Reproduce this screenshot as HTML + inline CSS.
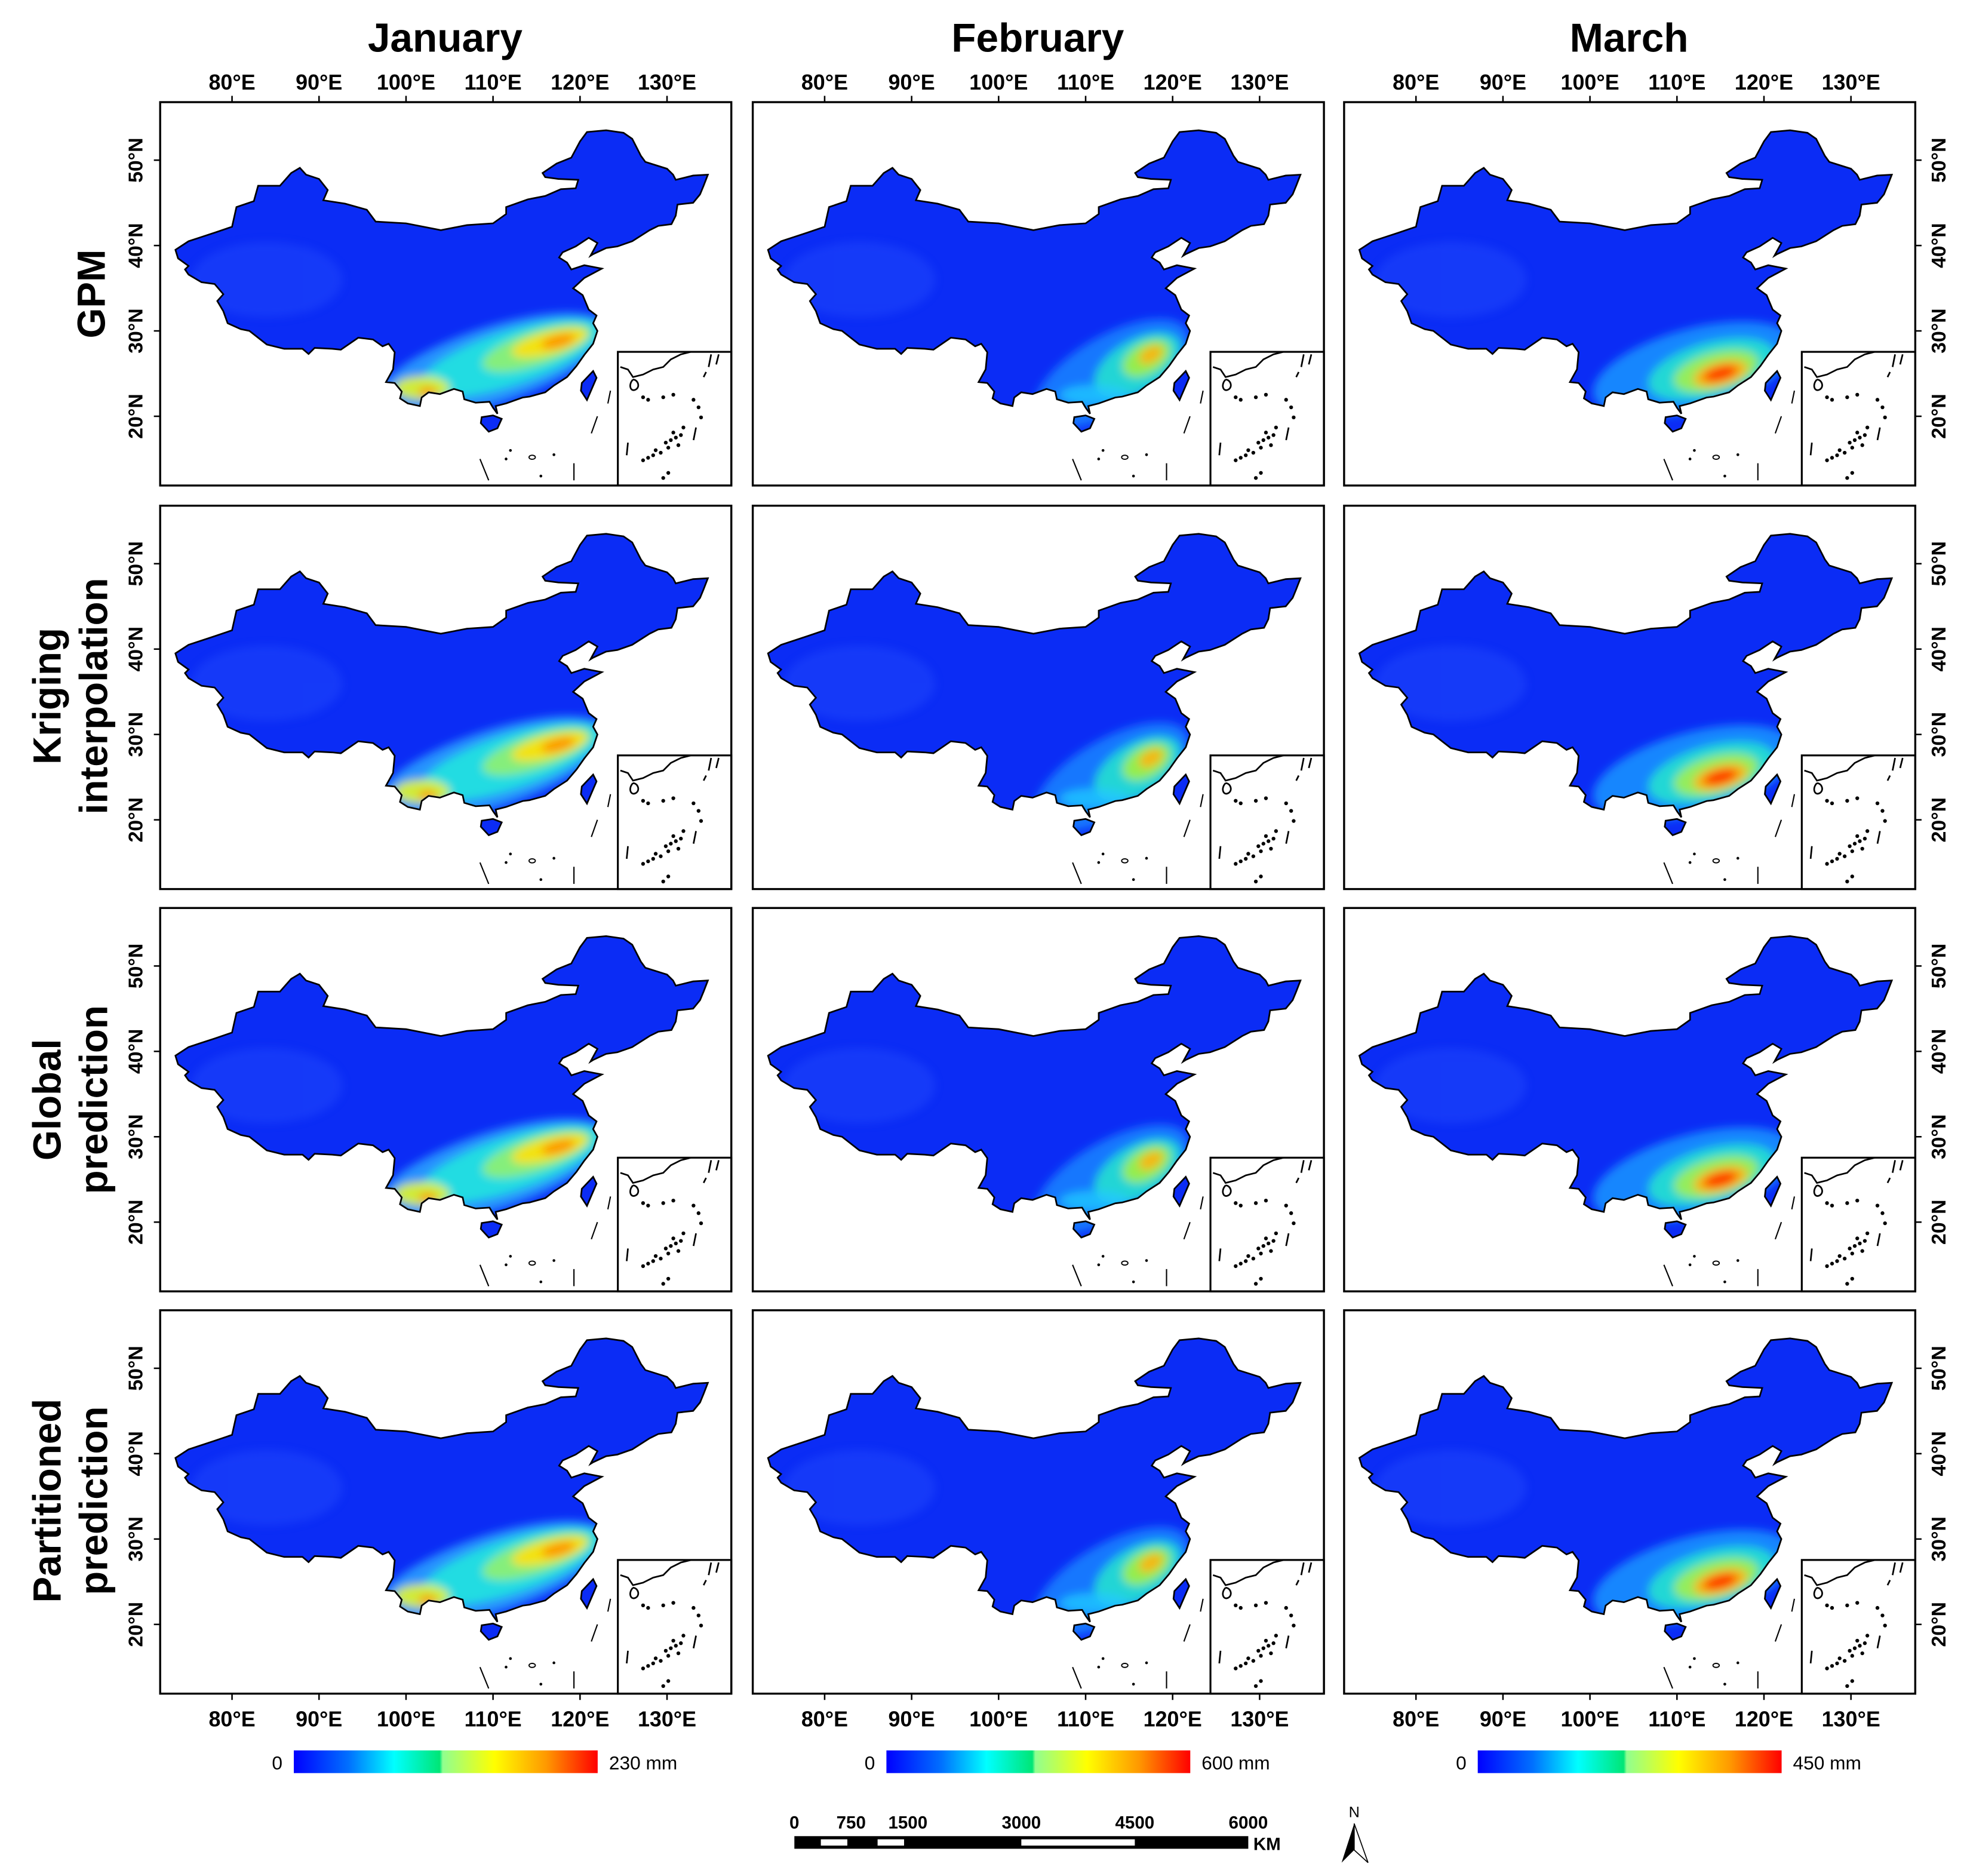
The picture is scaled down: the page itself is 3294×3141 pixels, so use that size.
<!DOCTYPE html>
<html><head><meta charset="utf-8">
<style>
html,body{margin:0;padding:0;background:#fff;}
svg{display:block;}
text{font-family:"Liberation Sans",Arial,sans-serif;font-weight:bold;fill:#000;}
text.reg{font-weight:normal;}
</style></head>
<body>
<svg id="fig" xmlns="http://www.w3.org/2000/svg" width="3294" height="3141" viewBox="0 0 1560 1487.6">
<defs>
<filter id="blur" x="-50%" y="-50%" width="200%" height="200%"><feGaussianBlur stdDeviation="3.5"/></filter>
<linearGradient id="cbar" x1="0" x2="1" y1="0" y2="0">
<stop offset="0" stop-color="#0000ff"/><stop offset="0.18" stop-color="#0070ff"/>
<stop offset="0.33" stop-color="#00ffff"/><stop offset="0.48" stop-color="#00e676"/>
<stop offset="0.49" stop-color="#90ff90"/><stop offset="0.66" stop-color="#ffff00"/>
<stop offset="0.83" stop-color="#ff9900"/><stop offset="1" stop-color="#ff0000"/>
</linearGradient>
</defs>
<g id="root"></g>
</svg>
<script>
const NS='http://www.w3.org/2000/svg';
const months=['January','February','March'];
const maxLabels=['230 mm','600 mm','450 mm'];
const rowLabels=[['GPM'],['Kriging','interpolation'],['Global','prediction'],['Partitioned','prediction']];
const lonTicks=[80,90,100,110,120,130];
const latTicks=[20,30,40,50];
const scaleLabels=['0','750','1500','3000','4500','6000'];
const scaleValues=[0,750,1500,3000,4500,6000];
const colX=[127,597,1066];
const rowY=[81,401,720,1039];
const PW=453, PH=304;
const china=[[73.5,39.5],[75,40.5],[76.5,41],[78,41.5],[80,42.2],[80.5,44.5],[82.5,45.2],[83,47],[85.5,47],[86.8,48.5],[87.8,49.1],[88.5,48.3],[90,47.8],[91,46.5],[90.5,45.3],[93,44.9],[95.5,44.2],[96.5,42.8],[100,42.6],[104,41.8],[107,42.4],[110,42.6],[111.5,43.7],[111.5,44.5],[114,45.4],[116,45.8],[117.8,46.6],[119.5,46.7],[119.8,47.7],[117.5,47.8],[116,48],[115.7,48.5],[117.3,49.6],[119,50.3],[120,52.2],[120.8,53.3],[123,53.5],[125,53.2],[126,52.5],[127,50.5],[127.5,49.8],[130,49],[130.7,48.3],[131,47.7],[133,48.2],[134.7,48.3],[134.2,47],[133.8,46],[133,45],[131.2,44.8],[131,43.5],[130.5,42.5],[129,42.3],[128,41.8],[126,40.5],[124.3,39.9],[123,39.7],[121.5,39],[121.2,38.8],[122,40.3],[121,40.9],[119.5,39.9],[118,39.2],[117.6,38.6],[118.5,38],[119,37.2],[120.5,37.7],[122.5,37.3],[120.5,36.2],[119.2,35],[120.3,34.2],[121,32.5],[121.9,31.8],[121.5,30.9],[122,30],[121.5,28.5],[120.5,27.2],[119.6,25.9],[118.5,24.6],[117,23.6],[116,22.8],[114.2,22.3],[113.4,22.2],[111.5,21.5],[110.3,21.2],[110.5,20.3],[110,21],[109.6,21.7],[108,21.6],[106.7,22],[106.5,22.9],[105.5,23.2],[103.9,22.6],[102.6,22.8],[101.8,22.2],[101.6,21.2],[100.2,21.5],[99.3,22.1],[99.5,22.9],[98.7,23.9],[97.7,24],[98.5,25.5],[98.7,27.5],[98,28.5],[97.3,28.2],[96.2,29],[94.5,29.2],[92.5,27.8],[91.5,27.9],[89.5,28],[88.8,27.3],[88.1,27.9],[86,27.9],[84,28.4],[82,30],[81,30.2],[79.5,30.9],[79,32.3],[78.3,33.5],[79,34.3],[78,35.5],[76.5,35.7],[75,36.6],[74.6,37.2],[75,37.6],[73.8,38.5]];
const hainan=[[108.6,19.2],[109.5,18.2],[110.5,18.6],[111,19.7],[110,20.1],[108.7,19.9]];
const taiwan=[[120.1,23],[120.8,21.9],[121.9,24.5],[121.5,25.3],[120.2,23.9]];
// hotspots: lon, lat, rx(deg), ry(deg), rot, color, opacity
const hotJan=[[110,26,14,4.5,-18,'#2a9cff',0.9],[112,26.8,11,3.2,-18,'#20e0e0',0.95],[115,28,6.5,2,-18,'#90f070',0.9],[116.5,28.6,4.5,1.3,-15,'#ffe000',0.9],[117.5,28.8,2,0.7,-15,'#ff8000',0.8],[101.8,23.3,3.2,1.4,0,'#d8f030',0.95],[102.5,22.9,1.1,0.6,0,'#ff9000',0.8]];
const hotFeb=[[113,25,10,4.5,-30,'#1a80ff',0.9],[116,26,5.5,3,-30,'#20e0d0',0.9],[117,26.8,3,1.8,-30,'#a0f040',0.9],[117.5,27.2,1.5,0.9,-30,'#ffb000',0.9],[111,22.5,4,1.2,0,'#20c8ff',0.8]];
const hotMar=[[112,25.5,12,4.8,-15,'#1a90ff',0.9],[114,25.5,7.5,3.2,-15,'#20e0d0',0.9],[114.5,25.3,5,2.2,-15,'#a0f050',0.9],[115,25,3.2,1.4,-15,'#ffb000',0.9],[115,25,2,0.8,-15,'#ff2000',0.85]];
const hots=[hotJan,hotFeb,hotMar];

const px=lon=>57+(lon-80)*6.9;
const py=lat=>46+(50-lat)*6.77;
function mk(tag,attrs,parent){const e=document.createElementNS(NS,tag);for(const k in attrs)e.setAttribute(k,attrs[k]);if(parent)parent.appendChild(e);return e;}
function pathOf(pts){return 'M'+pts.map(p=>px(p[0]).toFixed(1)+','+py(p[1]).toFixed(1)).join('L')+'Z';}
const root=document.getElementById('root');
const defs=document.querySelector('defs');
const cp=mk('clipPath',{id:'chinaClip'},defs);
mk('path',{d:pathOf(china)+pathOf(hainan)+pathOf(taiwan)},cp);
const cpp=mk('clipPath',{id:'panelClip'},defs);
mk('rect',{x:0,y:0,width:PW,height:PH},cpp);

function txt(parent,x,y,s,size,cls,anchor,rot){
  const t=mk('text',{x:x,y:y,'font-size':size,'text-anchor':anchor||'middle'},parent);
  if(cls)t.setAttribute('class',cls);
  if(rot)t.setAttribute('transform','rotate('+rot+' '+x+' '+y+')');
  t.textContent=s;return t;
}

for(let c=0;c<3;c++){
  const t=txt(root,colX[c]+226,41,months[c],32);
  
  
  for(let r=0;r<4;r++){
    const g=mk('g',{transform:'translate('+colX[c]+','+rowY[r]+')'},root);
    
    
    const inner=mk('g',{'clip-path':'url(#panelClip)'},g);
    const m=mk('g',{'clip-path':'url(#chinaClip)'},inner);
    mk('rect',{x:0,y:0,width:PW,height:PH,fill:'#0b2cf5'},m);
    mk('ellipse',{cx:px(84),cy:py(36),rx:60,ry:30,fill:'#2a55ff',opacity:0.35,filter:'url(#blur)'},m);
    const hg=mk('g',{filter:'url(#blur)'},m);
    hots[c].forEach(h=>{
      const e=mk('ellipse',{cx:px(h[0]),cy:py(h[1]),rx:h[2]*6.9,ry:h[3]*6.77,fill:h[5],opacity:h[6],transform:'rotate('+h[4]+' '+px(h[0])+' '+py(h[1])+')'},hg);
      
      
    });
    const ol=mk('path',{d:pathOf(china)+pathOf(hainan)+pathOf(taiwan),fill:'none',stroke:'#000','stroke-width':1.3},inner);
    
    
    [[112,16],[117,15.5],[111.5,15],[115.5,13]].forEach(p=>mk('circle',{cx:px(p[0]),cy:py(p[1]),r:1.1,fill:'#000'},inner));
    mk('ellipse',{cx:px(114.5),cy:py(15.2),rx:2.5,ry:1.6,fill:'none',stroke:'#000','stroke-width':0.9},inner);
    [[[108.5,15],[109.5,12.5]],[[119.3,14.5],[119.3,12.5]],[[122,20],[121.3,18]],[[123.5,23],[123.2,21.5]]].forEach(l=>mk('line',{x1:px(l[0][0]),y1:py(l[0][1]),x2:px(l[1][0]),y2:py(l[1][1]),stroke:'#000','stroke-width':1},inner));
    const ins=mk('g',{transform:'translate(363,198)'},g);
    
    
    mk('rect',{x:0,y:0,width:90,height:106,fill:'#fff',stroke:'#000','stroke-width':1.5},ins);
    mk('path',{d:'M2,12 L8,14 L12,20 L20,18 L28,14 L36,12 L42,6 L50,2 L58,0 M12,22 C8,26 10,32 14,30 C18,28 16,22 12,22 M74,2 L72,12 M70,16 L68,20 M80,2 L78,10 M62,60 L60,70 M8,72 L7,82',fill:'none',stroke:'#000','stroke-width':1.3},ins);
    [[20,36],[24,38],[36,36],[44,34],[60,38],[64,44],[38,72],[42,70],[46,68],[50,66],[30,78],[34,80],[24,84],[20,86],[48,74],[52,60],[40,96],[36,100],[66,52],[44,64],[40,76],[28,82]].forEach(p=>mk('circle',{cx:p[0],cy:p[1],r:1.5,fill:'#000'},ins));
    mk('rect',{x:0,y:0,width:PW,height:PH,fill:'none',stroke:'#000','stroke-width':1.6},g);
    if(c===0||c===2){
      latTicks.forEach(lt=>{
        const y=py(lt);
        if(c===0){mk('line',{x1:-5,y1:y,x2:0,y2:y,stroke:'#000','stroke-width':1.2},g);
          const l=txt(g,-14,y,lt+'°N',16,'', 'middle',-90);
          }
        else{mk('line',{x1:PW,y1:y,x2:PW+5,y2:y,stroke:'#000','stroke-width':1.2},g);
          const l=txt(g,PW+24,y,lt+'°N',16,'','middle',-90);
          }
      });
    }
    if(r===0||r===3){
      lonTicks.forEach(ln=>{
        const x=px(ln);
        if(r===0){mk('line',{x1:x,y1:-5,x2:x,y2:0,stroke:'#000','stroke-width':1.2},g);
          const l=txt(g,x,-10,ln+'°E',17,'');}
        else{mk('line',{x1:x,y1:PH,x2:x,y2:PH+5,stroke:'#000','stroke-width':1.2},g);
          const l=txt(g,x,PH+26,ln+'°E',17,'');}
      });
    }
  }
  const cb=mk('g',{},root);
  
  
  const bx=colX[c]+106;
  mk('rect',{x:bx,y:1388,width:241,height:18,fill:'url(#cbar)'},cb);
  txt(cb,bx-9,1403,'0',15,'reg','end');
  txt(cb,bx+9+241,1403,maxLabels[c],15,'reg','start');
}
const rowCx=[233,552,872,1190];
rowLabels.forEach((lines,i)=>{
  const g=mk('g',{},root);
  
  
  if(lines.length===1) txt(g,83,rowCx[i],lines[0],31,'','middle',-90);
  else{txt(g,48,rowCx[i],lines[0],31,'','middle',-90);txt(g,85,rowCx[i],lines[1],31,'','middle',-90);}
});
const sb=mk('g',{},root);


const sx=v=>630+v/6000*360;
mk('rect',{x:630,y:1456,width:360,height:10,fill:'#000'},sb);
mk('rect',{x:sx(350),y:1458.5,width:sx(700)-sx(350),height:5,fill:'#fff'},sb);
mk('rect',{x:sx(1100),y:1458.5,width:sx(1450)-sx(1100),height:5,fill:'#fff'},sb);
mk('rect',{x:sx(3000),y:1458.5,width:sx(4500)-sx(3000),height:5,fill:'#fff'},sb);
scaleValues.forEach((v,i)=>txt(sb,sx(v),1450,scaleLabels[i],14,''));
txt(sb,994,1467,'KM',14,'','start');
const na=mk('g',{},root);


txt(na,1074,1441,'N',12,'reg');
mk('path',{d:'M1074,1446 L1064,1477 L1074,1467 Z',fill:'#000'},na);
mk('path',{d:'M1074,1446 L1085,1477 L1074,1467 Z',fill:'#fff',stroke:'#000','stroke-width':0.8},na);
</script>
</body></html>
